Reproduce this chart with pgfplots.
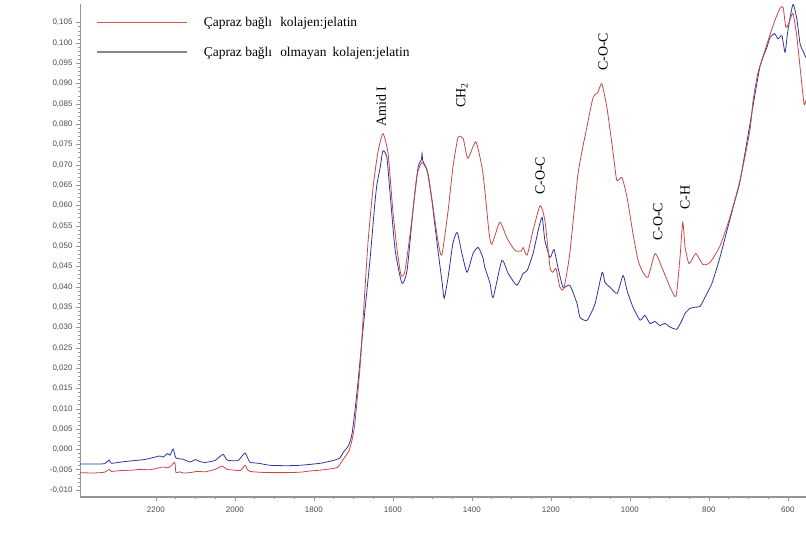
\documentclass[border=0pt]{standalone}
\usepackage{pgfplots}
\pgfplotsset{compat=1.18}
\usepackage{fontspec}
\setmainfont{Liberation Serif}
\newfontfamily\ticksf{Liberation Sans}

\definecolor{specred}{RGB}{200,72,74}
\definecolor{specblue}{RGB}{50,50,158}
\definecolor{legred}{RGB}{212,82,82}
\definecolor{legblue}{RGB}{128,136,150}
\definecolor{axisgray}{RGB}{150,150,150}
\definecolor{ticktext}{RGB}{75,75,75}

% FTIR spectrum, cross-linked collagen:gelatin film
\pgfplotstableread{
x y
2392 -0.0057
2360 -0.0058
2330 -0.0056
2318 -0.0049
2312 -0.0054
2290 -0.0052
2260 -0.0051
2240 -0.0049
2215 -0.0050
2195 -0.0046
2182 -0.0043
2170 -0.0045
2162 -0.0041
2152 -0.0032
2149 -0.0057
2140 -0.0055
2131 -0.0058
2113 -0.0057
2095 -0.0054
2075 -0.0055
2050 -0.0049
2032 -0.0041
2020 -0.0049
2000 -0.0051
1985 -0.0052
1974 -0.0039
1968 -0.0050
1962 -0.0054
1940 -0.0056
1911 -0.0057
1870 -0.0057
1835 -0.0056
1810 -0.0053
1784 -0.0051
1760 -0.0048
1740 -0.0044
1726 -0.0025
1712 -0.0005
1704 0.0020
1696 0.0065
1683 0.0202
1676 0.0310
1663 0.0507
1650 0.0645
1638 0.0730
1625 0.0777
1612 0.0728
1600 0.0588
1589 0.0490
1579 0.0428
1569 0.0440
1552 0.0563
1539 0.0674
1526 0.0706
1511 0.0679
1498 0.0595
1486 0.0514
1476 0.0478
1460 0.0588
1448 0.0693
1435 0.0767
1422 0.0765
1410 0.0716
1390 0.0757
1374 0.0693
1367 0.0637
1356 0.0530
1349 0.0505
1329 0.0559
1311 0.0520
1291 0.0490
1275 0.0488
1270 0.0497
1260 0.0478
1245 0.0539
1227 0.0600
1215 0.0563
1202 0.0448
1195 0.0436
1187 0.0445
1177 0.0399
1167 0.0396
1152 0.0482
1131 0.0679
1109 0.0792
1093 0.0866
1081 0.0878
1071 0.0900
1058 0.0841
1043 0.0735
1033 0.0662
1020 0.0669
1007 0.0620
992 0.0531
979 0.0465
967 0.0436
954 0.0424
936 0.0482
919 0.0448
898 0.0399
883 0.0377
873 0.0472
866 0.0559
860 0.0497
850 0.0457
833 0.0482
815 0.0455
797 0.0460
772 0.0500
747 0.0570
721 0.0662
696 0.0785
688 0.0858
676 0.0925
666 0.0957
650 0.1006
633 0.1055
620 0.1085
612 0.1088
605 0.1039
597 0.1050
587 0.1073
577 0.1014
569 0.0940
559 0.0850
554 0.0860
}\crosslinked

% FTIR spectrum, non-cross-linked collagen:gelatin film
\pgfplotstableread{
x y
2392 -0.0036
2360 -0.0036
2330 -0.0035
2318 -0.0026
2313 -0.0034
2295 -0.0032
2280 -0.0030
2250 -0.0027
2230 -0.0025
2215 -0.0022
2190 -0.0016
2182 -0.0019
2170 -0.0010
2164 -0.0014
2156 0.0001
2149 -0.0021
2131 -0.0024
2113 -0.0031
2100 -0.0025
2088 -0.0030
2075 -0.0032
2050 -0.0027
2030 -0.0012
2020 -0.0026
2000 -0.0028
1990 -0.0026
1974 -0.0009
1962 -0.0031
1940 -0.0034
1911 -0.0039
1870 -0.0040
1835 -0.0039
1784 -0.0034
1750 -0.0027
1734 -0.0021
1726 -0.0008
1712 0.0010
1703 0.0040
1691 0.0138
1676 0.0290
1658 0.0465
1646 0.0600
1640 0.0654
1632 0.0694
1625 0.0735
1615 0.0718
1607 0.0630
1594 0.0490
1577 0.0409
1564 0.0440
1549 0.0588
1536 0.0694
1528 0.0712
1526 0.0728
1524 0.0710
1513 0.0686
1501 0.0612
1488 0.0507
1475 0.0409
1470 0.0372
1460 0.0424
1448 0.0507
1437 0.0534
1425 0.0482
1412 0.0436
1397 0.0482
1384 0.0497
1372 0.0472
1367 0.0448
1354 0.0409
1346 0.0374
1324 0.0465
1308 0.0433
1286 0.0404
1270 0.0433
1260 0.0440
1245 0.0482
1232 0.0539
1222 0.0571
1215 0.0514
1202 0.0472
1192 0.0492
1182 0.0448
1169 0.0399
1152 0.0404
1134 0.0360
1126 0.0325
1108 0.0318
1088 0.0359
1070 0.0436
1063 0.0411
1050 0.0399
1032 0.0384
1017 0.0428
1007 0.0391
992 0.0350
974 0.0318
962 0.0330
949 0.0310
937 0.0315
924 0.0305
911 0.0310
898 0.0301
881 0.0296
868 0.0318
860 0.0335
848 0.0347
835 0.0350
822 0.0352
810 0.0374
792 0.0409
772 0.0472
752 0.0546
734 0.0612
721 0.0660
696 0.0800
671 0.0940
653 0.0989
645 0.1014
633 0.1023
625 0.1010
615 0.1018
607 0.0977
600 0.1030
587 0.1095
577 0.1058
569 0.0998
562 0.0981
554 0.0964
}\noncrosslinked

\begin{document}
\begin{tikzpicture}
\path[use as bounding box] (0,0) rectangle (806bp,556bp);
\begin{axis}[
  at={(80bp,59bp)}, anchor=south west,
  scale only axis, width=726bp, height=492.6bp,
  x dir=reverse,
  xmin=554, xmax=2392, ymin=-0.0117, ymax=0.1095,
  axis x line*=bottom, axis y line*=left,
  x axis line style={draw=axisgray, line width=1.3bp},
  y axis line style={draw=axisgray, line width=0.5bp},
  xtick={600,800,...,2200},
  ytick={-0.010,-0.005,0,0.005,0.010,0.015,0.020,0.025,0.030,0.035,0.040,0.045,0.050,0.055,0.060,0.065,0.070,0.075,0.080,0.085,0.090,0.095,0.100,0.105},
  minor x tick num=3, minor y tick num=4,
  tick align=outside,
  major tick length=4bp, minor tick length=2bp,
  every tick/.style={draw=axisgray, line width=0.6bp},
  scaled y ticks=false,
  tick label style={font=\ticksf\fontsize{8}{9}\selectfont, text=ticktext},
  /pgf/number format/assume math mode=true,
  xticklabel style={/pgf/number format/set thousands separator={}, yshift=-2bp},
  yticklabel style={/pgf/number format/.cd, fixed, fixed zerofill, precision=3, use comma},
  clip=true,
  legend cell align=left,
  legend image code/.code={\draw[#1] (0bp,0bp) -- (90bp,0bp);},
  legend style={at={(rel axis cs:0.018,0.983)}, anchor=north west,
    draw=none, fill=none, font=\fontsize{13.5}{16}\selectfont,
    row sep=15bp, column sep=14bp},
]
\addlegendimage{draw=legred, line width=1bp}
\addlegendentry{Çapraz bağlı\hspace{0.35em} kolajen:jelatin}
\addlegendimage{draw=legblue, color=legblue, line width=1.6bp}
\addlegendentry{Çapraz bağlı\hspace{0.35em} olmayan\hspace{0.2em} kolajen:jelatin}

\addplot[specblue, line width=0.8bp, smooth, tension=0.35, forget plot] table[x=x, y=y] {\noncrosslinked};
\addplot[specred, line width=0.8bp, smooth, tension=0.35, forget plot] table[x=x, y=y] {\crosslinked};

% band assignments
\begin{scope}[every node/.style={rotate=90, font=\fontsize{14}{16}\selectfont, inner sep=0pt}]
\node at (axis cs:1630,0.0843) {Amid I};
\node at (axis cs:1425,0.0872) {CH\textsubscript{2}};
\node at (axis cs:1227,0.0673) {C-O-C};
\node at (axis cs:1068,0.0978) {C-O-C};
\node at (axis cs:929,0.0560) {C-O-C};
\node at (axis cs:860,0.0619) {C-H};
\end{scope}

\node[font=\fontsize{16}{18}\selectfont, rotate=90] at (rel axis cs:-0.0758,0.477) {Absorbans};
\node[font=\fontsize{16}{18}\selectfont] at (rel axis cs:0.522,-0.093) {Dalga numarası (cm\textsuperscript{-1})};
\end{axis}
\end{tikzpicture}
\end{document}
